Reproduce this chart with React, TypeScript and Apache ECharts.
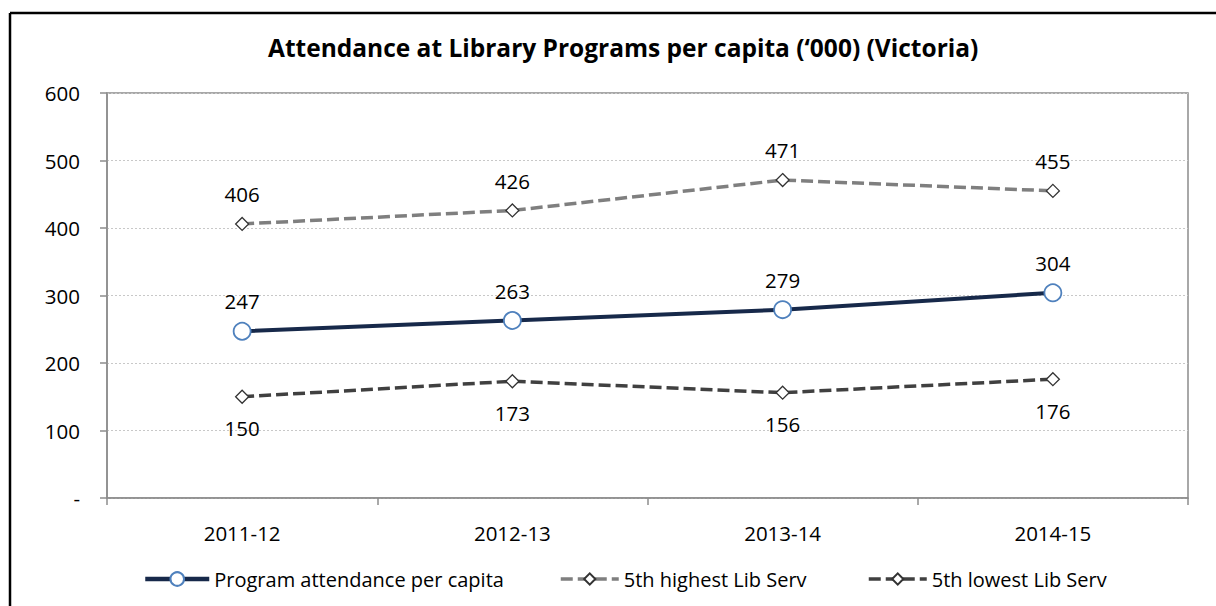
import React, { useEffect, useRef } from "react";
import * as echarts from "echarts";

const categories = ["2011-12", "2012-13", "2013-14", "2014-15"];
const programAttendance = [247, 263, 279, 304];
const fifthHighest = [406, 426, 471, 455];
const fifthLowest = [150, 173, 156, 176];
const seriesNames = ["Program attendance per capita", "5th highest Lib Serv", "5th lowest Lib Serv"];

const FONT = "Open Sans";

export default function App() {
  const ref = useRef<HTMLDivElement>(null);
  useEffect(() => {
    document.body.style.margin = "0";
    const chart = echarts.init(ref.current!, null, { renderer: "svg" });
    const labelStyle = { show: true, color: "#000", fontFamily: FONT, fontSize: 20.5 };
    const legendText = { fontFamily: FONT, fontSize: 20, color: "#000" };
    chart.setOption({
      animation: false,
      backgroundColor: "#fff",
      title: {
        text: "Attendance at Library Programs per capita (‘000) (Victoria)",
        left: 263,
        top: 30,
        textStyle: { fontFamily: FONT, fontSize: 24.5, fontWeight: "bold", color: "#000" },
      },
      graphic: [
        { type: "line", shape: { x1: 10, y1: 13, x2: 1216, y2: 13 }, style: { stroke: "#000", lineWidth: 2.5 } },
        { type: "line", shape: { x1: 10, y1: 13, x2: 10, y2: 606 }, style: { stroke: "#000", lineWidth: 2.5 } },
      ],
      grid: {
        left: 107,
        top: 93,
        right: 28,
        bottom: 108,
        show: true,
        borderColor: "#8C8C8C",
        borderWidth: 1.5,
        backgroundColor: "transparent",
      },
      legend: [
        {
          data: [seriesNames[0]],
          left: 138,
          top: 564,
          itemWidth: 64,
          itemHeight: 17,
          lineStyle: { width: 4.5 },
          textStyle: legendText,
        },
        {
          data: [seriesNames[1]],
          left: 554,
          top: 564,
          itemWidth: 58,
          itemHeight: 14,
          lineStyle: { width: 3.5 },
          textStyle: legendText,
        },
        {
          data: [seriesNames[2]],
          left: 862,
          top: 564,
          itemWidth: 58,
          itemHeight: 14,
          lineStyle: { width: 3.5 },
          textStyle: legendText,
        },
      ],
      xAxis: {
        type: "category",
        data: categories,
        boundaryGap: true,
        axisLine: { show: true, lineStyle: { color: "#8C8C8C", width: 1.5 } },
        axisTick: { show: true, length: 7, alignWithLabel: false, lineStyle: { color: "#8C8C8C", width: 1.5 } },
        axisLabel: { color: "#000", fontFamily: FONT, fontSize: 20.5, margin: 24 },
        splitLine: { show: false },
      },
      yAxis: {
        type: "value",
        min: 0,
        max: 600,
        interval: 100,
        axisLine: { show: true, lineStyle: { color: "#8C8C8C", width: 1.5 } },
        axisTick: { show: true, length: 7, inside: false, lineStyle: { color: "#8C8C8C", width: 1.5 } },
        axisLabel: {
          color: "#000",
          fontFamily: FONT,
          fontSize: 20.5,
          margin: 27,
          formatter: (v: number) => (v === 0 ? "-" : String(v)),
        },
        splitLine: { show: true, lineStyle: { color: "#C8C8C8", type: [2, 2], width: 1 } },
      },
      series: [
        {
          name: seriesNames[0],
          type: "line",
          data: programAttendance,
          symbol: "circle",
          symbolSize: 17,
          z: 4,
          lineStyle: { color: "#17294A", width: 4 },
          itemStyle: { color: "#fff", borderColor: "#4F81BD", borderWidth: 1.8 },
          label: { ...labelStyle, position: "top", distance: 10 },
        },
        {
          name: seriesNames[1],
          type: "line",
          data: fifthHighest,
          symbol: "diamond",
          symbolSize: 13,
          z: 3,
          lineStyle: { color: "#7F7F7F", width: 3.5, type: [12, 5] },
          itemStyle: { color: "#fff", borderColor: "#333", borderWidth: 1.3 },
          label: { ...labelStyle, position: "top", distance: 12 },
        },
        {
          name: seriesNames[2],
          type: "line",
          data: fifthLowest,
          symbol: "diamond",
          symbolSize: 13,
          z: 3,
          lineStyle: { color: "#404040", width: 3.5, type: [12, 5] },
          itemStyle: { color: "#fff", borderColor: "#333", borderWidth: 1.3 },
          label: { ...labelStyle, position: "bottom", distance: 14 },
        },
      ],
    });
    return () => chart.dispose();
  }, []);
  return <div ref={ref} style={{ width: 1216, height: 606 }} />;
}
